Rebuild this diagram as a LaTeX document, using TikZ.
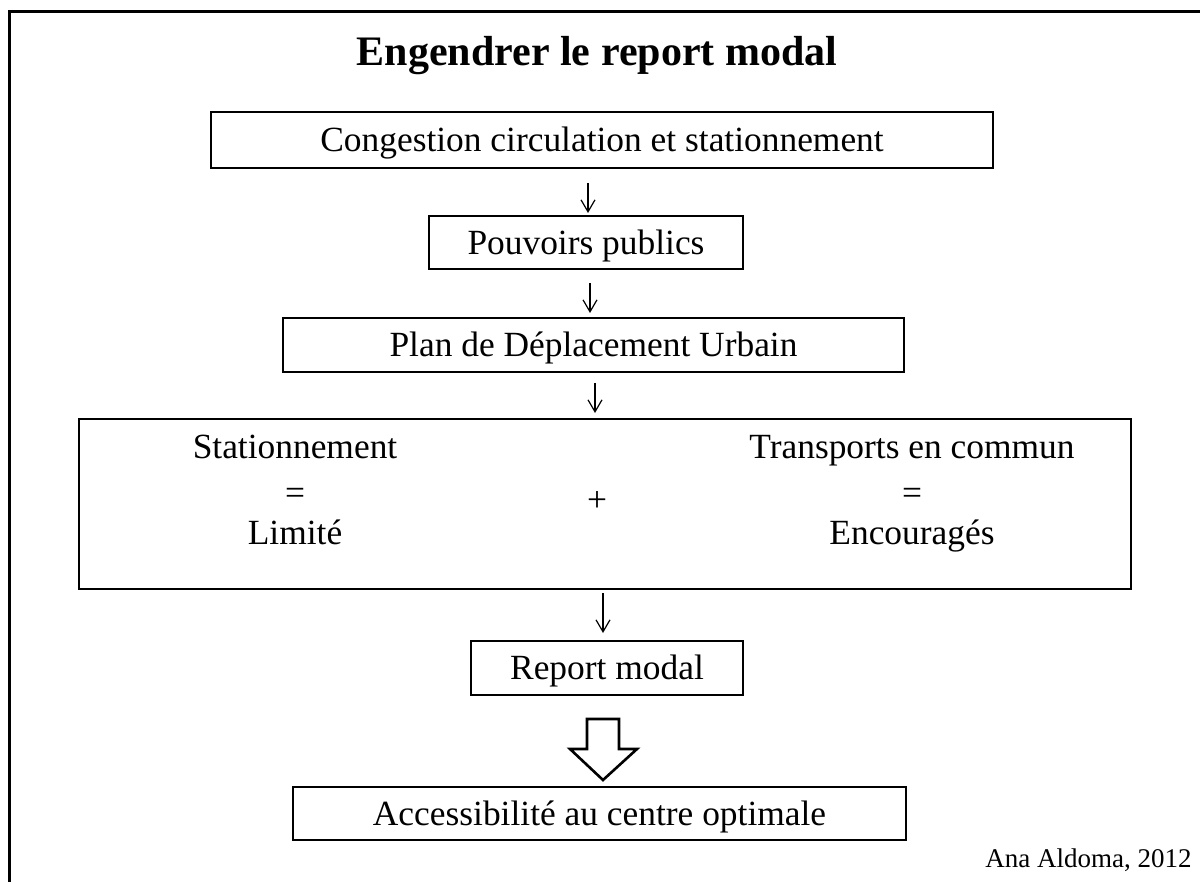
\documentclass[tikz,border=0pt]{standalone}
\usepackage{fontspec}
\setmainfont{Liberation Serif}
\usetikzlibrary{arrows.meta}
\begin{document}
\begin{tikzpicture}[x=0.5pt,y=-0.5pt,
  txt/.style={inner sep=0pt,text height=11.7pt,text depth=0pt,font=\fontsize{17.7}{21}\selectfont},
  box/.style={txt,draw,line width=1pt},
  lbl/.style={txt},
  arr/.style={line width=0.6pt,-{Straight Barb[length=6pt,width=7pt]}},
  fat/.style={draw,line width=1.3pt,line join=miter}]
\useasboundingbox (0,0) rectangle (1200,882);
\fill[white] (0,0) rectangle (1200,882);
% frame
\draw[line width=1.5pt] (9,882) -- (9,12) -- (1200,12);
% title
\node[inner sep=0pt,text height=13.9pt,text depth=0pt,font=\fontsize{21}{25}\selectfont\bfseries] (title) at (597,52) {Engendrer le report modal};
% boxes
\node[box,minimum width=391pt,minimum height=28pt] (b1) at (602,140) {Congestion circulation et stationnement};
\node[box,minimum width=157pt,minimum height=26.5pt] (b2) at (586,242.5) {Pouvoirs publics};
\node[box,minimum width=310.5pt,minimum height=27pt] (b3) at (593.5,345) {Plan de Déplacement Urbain};
\node[box,minimum width=526pt,minimum height=85pt] (b4) at (605,504) {};
\node[box,minimum width=136pt,minimum height=27pt] (b5) at (607,668) {Report modal};
\node[box,minimum width=306.5pt,minimum height=26.5pt] (b6) at (599.5,813.5) {Accessibilité au centre optimale};
% inside box 4
\node[lbl] (s1) at (295,447) {Stationnement};
\node[lbl] (s2) at (295,493) {=};
\node[lbl] (s3) at (295,533) {Limité};
\node[lbl] (plus) at (597,500) {+};
\node[lbl] (t1) at (912,447) {Transports en commun};
\node[lbl] (t2) at (912,493) {=};
\node[lbl] (t3) at (912,533) {Encouragés};
% arrows
\coordinate (a1s) at (588,183); \coordinate (a1e) at (588,213);
\coordinate (a2s) at (590,283); \coordinate (a2e) at (590,313);
\coordinate (a3s) at (595,383); \coordinate (a3e) at (595,413);
\coordinate (a4s) at (603,593); \coordinate (a4e) at (603,633);
\draw[arr] (a1s) -- (a1e);
\draw[arr] (a2s) -- (a2e);
\draw[arr] (a3s) -- (a3e);
\draw[arr] (a4s) -- (a4e);
% fat arrow
\draw[fat] (587,719) -- (619,719) -- (619,749) -- (637,749) -- (603,780) -- (570,749) -- (587,749) -- cycle;
% author
\node[inner sep=0pt,anchor=east,text height=8.9pt,text depth=0pt,font=\fontsize{13.5}{16}\selectfont] (author) at (1192,859) {Ana Aldoma, 2012};
\end{tikzpicture}
\end{document}
